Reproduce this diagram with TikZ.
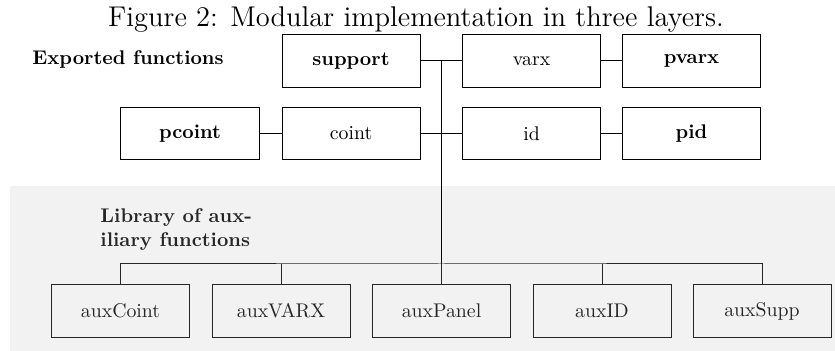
\documentclass[tikz,border=0pt]{standalone}
\usetikzlibrary{calc}
\begin{document}
\begin{tikzpicture}[x=.505pt,y=.505pt,line width=.5pt,
  box/.style={draw,minimum width=69.7pt,minimum height=26.3pt,inner sep=0pt,fill=white},
  auxbox/.style={draw=black!85,text=black!85,minimum width=69.7pt,minimum height=26.3pt,inner sep=0pt}]
\useasboundingbox (0,0) rectangle (835,351);
\fill[black!5] (10,0) rectangle (835,165);
\node[font=\Large,anchor=base] (title) at (416,324){Figure 2: Modular implementation in three layers.};
\node[font=\bfseries,anchor=west,inner sep=0pt] (exported) at (32,291){Exported functions};
\node[font=\bfseries,anchor=west,inner sep=0pt,align=left,text=black!85] (library) at (100,121.5){Library of aux-\\iliary functions};
% exported layer
\node[box,font=\bfseries] (support) at (351,290){support};\node[box] (varx) at (531.5,290){varx};\node[box,font=\bfseries] (pvarx) at (691.5,290){pvarx};
\node[box,font=\bfseries] (pcoint) at (190,217.5){pcoint};\node[box] (coint) at (351,217.5){coint};\node[box] (id) at (531.5,217.5){id};\node[box,font=\bfseries] (pid) at (691.5,217.5){pid};
\draw (support) -- (varx) (varx) -- (pvarx) (pcoint) -- (coint) (coint) -- (id) (id) -- (pid);
% auxiliary layer
\foreach \n/\x in {auxCoint/120.5,auxVARX/281,auxPanel/441.5,auxID/602,auxSupp/762}
  \node[auxbox] (\n) at (\x,40){\n};
\coordinate (hub) at ($(support.east)!.5!(varx.west)$);\coordinate (bus) at (hub |- 0,87);
\draw (hub) -- (bus);
\draw[black!85] (auxCoint.north) |- (bus) -| (auxSupp.north);
\foreach \n in {auxVARX,auxPanel,auxID} \draw[black!85] (\n.north) -- (\n.north |- bus);
\end{tikzpicture}
\end{document}
